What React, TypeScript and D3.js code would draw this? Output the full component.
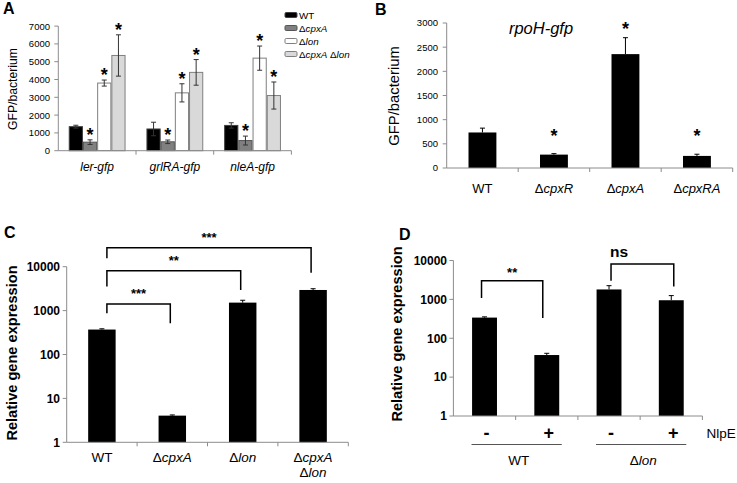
import React from 'react';
import * as d3 from 'd3';

const FONT = "'Liberation Sans', Arial, Helvetica, sans-serif";
const AXIS = '#8c8c8c';

// ---------- Panel A data ----------
const aGenes = ['ler-gfp', 'grlRA-gfp', 'nleA-gfp'];
const aStrains = ['WT', 'ΔcpxA', 'Δlon', 'ΔcpxA Δlon'];
const aWT = [1350, 1220, 1420];
const aCpxA = [480, 500, 570];
const aLon = [3800, 3250, 5200];
const aCpxALon = [5350, 4400, 3100];
const aWTErr = [80, 380, 150];
const aCpxAErr = [130, 100, 250];
const aLonErr = [170, 510, 680];
const aCpxALonErr = [1160, 720, 760];
const aStarred = [false, true, true, true];
const aTicks = [0, 1000, 2000, 3000, 4000, 5000, 6000, 7000];
const aFills = ['#000000', '#808080', '#ffffff', '#d9d9d9'];
const aStrokes = ['#404040', '#555555', '#7f7f7f', '#7f7f7f'];

// ---------- Panel B data ----------
const bStrains = ['WT', 'ΔcpxR', 'ΔcpxA', 'ΔcpxRA'];
const bValues = [735, 277, 2356, 250];
const bErr = [90, 20, 340, 35];
const bStarAt = [null, 750, 2955, 750];
const bTicks = [0, 500, 1000, 1500, 2000, 2500, 3000];

// ---------- Panel C data ----------
const cStrains = ['WT', 'ΔcpxA', 'Δlon', 'ΔcpxA|Δlon'];
const cValues = [370, 4.05, 1520, 2950];
const cErr = [15, 0.15, 200, 200];
const cBrackets = [
  { from: 0, to: 1, left: 870, top: 1413, right: 515, label: '***' },
  { from: 0, to: 2, left: 3540, top: 8100, right: 2950, label: '**' },
  { from: 0, to: 3, left: 15500, top: 27000, right: 7300, label: '***' },
];
const logTicks = [1, 10, 100, 1000, 10000];

// ---------- Panel D data ----------
const dConds = ['WT-', 'WT+', 'lon-', 'lon+'];
const dSigns = ['-', '+', '-', '+'];
const dGroups = ['WT', 'Δlon'];
const dValues = [340, 37, 1800, 950];
const dErr = [15, 4, 450, 300];
const dBrackets = [
  { from: 0, to: 1, left: 1090, top: 3020, right: 333, label: '**' },
  { from: 2, to: 3, left: 3020, top: 8100, right: 2150, label: 'ns' },
];

// label renderer: Δ upright, gene names italic
function Rich({ text, italicAll }: { text: string; italicAll?: boolean }) {
  if (italicAll) return <tspan fontStyle="italic">{text}</tspan>;
  const words = text.split(' ');
  const out: any[] = [];
  words.forEach((w, i) => {
    if (i > 0) out.push(<tspan key={'s' + i}>{' '}</tspan>);
    if (w.startsWith('Δ')) {
      out.push(<tspan key={'d' + i}>Δ</tspan>);
      out.push(<tspan key={'i' + i} fontStyle="italic">{w.slice(1)}</tspan>);
    } else {
      out.push(<tspan key={'w' + i}>{w}</tspan>);
    }
  });
  return <>{out}</>;
}

function YAxisLinear({ x, y, ticks, fs, bold, right }: any) {
  const [r0, r1] = y.range();
  return (
    <g>
      <line x1={x} x2={x} y1={r0} y2={r1} stroke={AXIS} strokeWidth={1} />
      {ticks.map((t: number) => (
        <g key={t}>
          <line x1={x - 4} x2={x} y1={y(t)} y2={y(t)} stroke={AXIS} strokeWidth={1} />
          <text x={right} y={y(t)} dy="0.36em" textAnchor="end" fontSize={fs} fontWeight={bold ? 'bold' : 'normal'} fill="#000">
            {t}
          </text>
        </g>
      ))}
    </g>
  );
}

function XAxisBand({ xs, y, n }: any) {
  const [r0, r1] = xs.range();
  const bw = (r1 - r0) / n;
  const ticks = d3.range(1, n + 1).map((i) => r0 + i * bw);
  return (
    <g>
      <line x1={r0} x2={r1} y1={y} y2={y} stroke={AXIS} strokeWidth={1} />
      {ticks.map((t, i) => (
        <line key={i} x1={t} x2={t} y1={y} y2={y + 4} stroke={AXIS} strokeWidth={1} />
      ))}
    </g>
  );
}

function PanelA() {
  const x = d3.scaleBand().domain(aGenes).range([58.3, 291.4]);
  const inner = d3.scaleBand().domain(aStrains).range([0, 56.8]);
  const y = d3.scaleLinear().domain([0, 7000]).range([150.7, 26.1]);
  const series = [aWT, aCpxA, aLon, aCpxALon];
  const errs = [aWTErr, aCpxAErr, aLonErr, aCpxALonErr];
  const off = (x.bandwidth() - 56.8) / 2;
  const bw = inner.bandwidth();
  return (
    <g>
      <text x={3} y={14} fontSize={16} fontWeight="bold">A</text>
      <YAxisLinear x={58.3} y={y} ticks={aTicks} fs={9.5} right={50} />
      {aGenes.map((g, gi) => (
        <g key={g}>
          {aStrains.map((s, si) => {
            const v = series[si][gi];
            const e = errs[si][gi];
            const x0 = (x(g) as number) + off + (inner(s) as number);
            const cx = x0 + bw / 2;
            return (
              <g key={s}>
                <rect x={x0 + 0.5} y={y(v)} width={bw - 1} height={y(0) - y(v)} fill={aFills[si]} stroke={aStrokes[si]} strokeWidth={1} />
                <line x1={cx} x2={cx} y1={y(v - e)} y2={y(v + e)} stroke="#333" strokeWidth={1} />
                <line x1={cx - 2.5} x2={cx + 2.5} y1={y(v + e)} y2={y(v + e)} stroke="#333" strokeWidth={1} />
                <line x1={cx - 2.5} x2={cx + 2.5} y1={y(v - e)} y2={y(v - e)} stroke="#333" strokeWidth={1} />
                {aStarred[si] && (
                  <text x={cx} y={y(v + e) + 1} textAnchor="middle" fontSize={18} fontWeight="bold">*</text>
                )}
              </g>
            );
          })}
          <text x={(x(g) as number) + x.bandwidth() / 2} y={171} textAnchor="middle" fontSize={12}>
            <Rich text={g} italicAll />
          </text>
        </g>
      ))}
      <XAxisBand xs={x} y={150.7} n={aGenes.length} />
      <text transform={`translate(12.5,89) rotate(-90)`} textAnchor="middle" dy="0.35em" fontSize={12.2}>GFP/bacterium</text>
      {aStrains.map((s, i) => (
        <g key={s}>
          <rect x={285} y={15 + i * 13 - 2.5} width={12} height={5} rx={1.2} fill={aFills[i]} stroke={aStrokes[i]} strokeWidth={1} />
          <text x={299} y={15 + i * 13 + 3.5} fontSize={9.8}>
            <Rich text={s} />
          </text>
        </g>
      ))}
    </g>
  );
}

function PanelB() {
  const x = d3.scaleBand().domain(bStrains).range([446.7, 732.7]);
  const y = d3.scaleLinear().domain([0, 3000]).range([168, 23]);
  const bw = x.bandwidth() * 0.39;
  return (
    <g>
      <text x={375} y={15} fontSize={16} fontWeight="bold">B</text>
      <YAxisLinear x={446.7} y={y} ticks={bTicks} fs={9.5} right={438} />
      {bStrains.map((s, i) => {
        const cx = (x(s) as number) + x.bandwidth() / 2;
        const v = bValues[i];
        const top = y(v + bErr[i]);
        const st = bStarAt[i];
        return (
          <g key={s}>
            <rect x={cx - bw / 2} y={y(v)} width={bw} height={y(0) - y(v)} fill="#000" />
            <line x1={cx} x2={cx} y1={y(v)} y2={top} stroke="#000" strokeWidth={1} />
            <line x1={cx - 2.5} x2={cx + 2.5} y1={top} y2={top} stroke="#000" strokeWidth={1} />
            {st !== null && (
              <text x={cx} y={y(st) + 10} textAnchor="middle" fontSize={18} fontWeight="bold">*</text>
            )}
            <text x={cx} y={193} textAnchor="middle" fontSize={13}>
              <Rich text={s} />
            </text>
          </g>
        );
      })}
      <XAxisBand xs={x} y={168} n={bStrains.length} />
      <text transform={`translate(394,96) rotate(-90)`} textAnchor="middle" dy="0.35em" fontSize={14.8}>GFP/bacterium</text>
      <text x={541} y={33.5} textAnchor="middle" fontSize={16.5} fontStyle="italic">rpoH-gfp</text>
    </g>
  );
}

function Bracket({ x1, x2, yl, yt, yr, label, fs, labelX, labelDy }: any) {
  return (
    <g>
      <path d={`M${x1},${yl}V${yt}H${x2}V${yr}`} fill="none" stroke="#000" strokeWidth={1.5} />
      <text x={labelX} y={yt - labelDy} textAnchor="middle" fontSize={fs} fontWeight="bold">{label}</text>
    </g>
  );
}

function PanelC() {
  const x = d3.scaleBand().domain(cStrains).range([66.7, 348.3]);
  const y = d3.scaleLog().domain([1, 10000]).range([442.3, 266.7]);
  const bw = x.bandwidth() * 0.39;
  const cxOf = (i: number) => (x(cStrains[i]) as number) + x.bandwidth() / 2;
  return (
    <g>
      <text x={4} y={238} fontSize={16} fontWeight="bold">C</text>
      <YAxisLinear x={66.7} y={y} ticks={logTicks} fs={12} bold right={60} />
      {cStrains.map((s, i) => {
        const cx = cxOf(i);
        const v = cValues[i];
        const top = y(v + cErr[i]);
        const lines = s.split('|');
        return (
          <g key={s}>
            <rect x={cx - bw / 2} y={y(v)} width={bw} height={y(1) - y(v)} fill="#000" />
            <line x1={cx} x2={cx} y1={y(v)} y2={top} stroke="#000" strokeWidth={1} />
            <line x1={cx - 2.5} x2={cx + 2.5} y1={top} y2={top} stroke="#000" strokeWidth={1} />
            {lines.map((l, li) => (
              <text key={li} x={cx} y={461.7 + li * 15} textAnchor="middle" fontSize={13.5}>
                <Rich text={l} />
              </text>
            ))}
          </g>
        );
      })}
      <XAxisBand xs={x} y={442.3} n={cStrains.length} />
      {cBrackets.map((b, i) => {
        const x1 = cxOf(b.from) + 5;
        const x2 = cxOf(b.to) - 2;
        return (
          <Bracket key={i} x1={x1} x2={x2} yl={y(b.left)} yt={y(b.top)} yr={y(b.right)} label={b.label} fs={13} labelX={(x1 + x2) / 2} labelDy={6} />
        );
      })}
      <text transform={`translate(12,353) rotate(-90)`} textAnchor="middle" dy="0.35em" fontSize={14.6} fontWeight="bold">Relative gene expression</text>
    </g>
  );
}

function PanelD() {
  const x = d3.scaleBand().domain(dConds).range([453.4, 702.4]);
  const y = d3.scaleLog().domain([1, 10000]).range([416, 260.5]);
  const bw = x.bandwidth() * 0.4;
  const cxOf = (i: number) => (x(dConds[i]) as number) + x.bandwidth() / 2;
  return (
    <g>
      <text x={399} y={240} fontSize={16} fontWeight="bold">D</text>
      <YAxisLinear x={453.4} y={y} ticks={logTicks} fs={12} bold right={447} />
      {dConds.map((c, i) => {
        const cx = cxOf(i);
        const v = dValues[i];
        const top = y(v + dErr[i]);
        return (
          <g key={c}>
            <rect x={cx - bw / 2} y={y(v)} width={bw} height={y(1) - y(v)} fill="#000" />
            <line x1={cx} x2={cx} y1={y(v)} y2={top} stroke="#000" strokeWidth={1} />
            <line x1={cx - 2.5} x2={cx + 2.5} y1={top} y2={top} stroke="#000" strokeWidth={1} />
            <text x={cx + 2} y={439} textAnchor="middle" fontSize={18} fontWeight="bold">{dSigns[i]}</text>
          </g>
        );
      })}
      <XAxisBand xs={x} y={416} n={dConds.length} />
      {dGroups.map((g, gi) => {
        const c1 = cxOf(gi * 2);
        const c2 = cxOf(gi * 2 + 1);
        return (
          <g key={g}>
            <line x1={c1 - 13} x2={c2 + 15} y1={444.5} y2={444.5} stroke="#555" strokeWidth={1} />
            <text x={(c1 + c2) / 2 + 3} y={465} textAnchor="middle" fontSize={13.5}>
              <Rich text={g} />
            </text>
          </g>
        );
      })}
      <text x={706.5} y={438} fontSize={13.5}>NlpE</text>
      {dBrackets.map((b, i) => {
        const x1 = cxOf(b.from) + (i === 0 ? -3 : 2);
        const x2 = cxOf(b.to) + (i === 0 ? -4 : 2.5);
        const isNs = b.label === 'ns';
        return (
          <Bracket key={i} x1={x1} x2={x2} yl={y(b.left)} yt={y(b.top)} yr={y(b.right)} label={b.label}
            fs={isNs ? 15.5 : 13} labelX={isNs ? 619 : (x1 + x2) / 2} labelDy={isNs ? 7 : 4} />
        );
      })}
      <text transform={`translate(397,334) rotate(-90)`} textAnchor="middle" dy="0.35em" fontSize={14.6} fontWeight="bold">Relative gene expression</text>
    </g>
  );
}

export default function App() {
  return (
    <svg width={737} height={483} viewBox="0 0 737 483" style={{ position: 'absolute', left: 0, top: 0, background: '#fff' }} fontFamily={FONT}>
      <rect width={737} height={483} fill="#fff" />
      <PanelA />
      <PanelB />
      <PanelC />
      <PanelD />
    </svg>
  );
}
